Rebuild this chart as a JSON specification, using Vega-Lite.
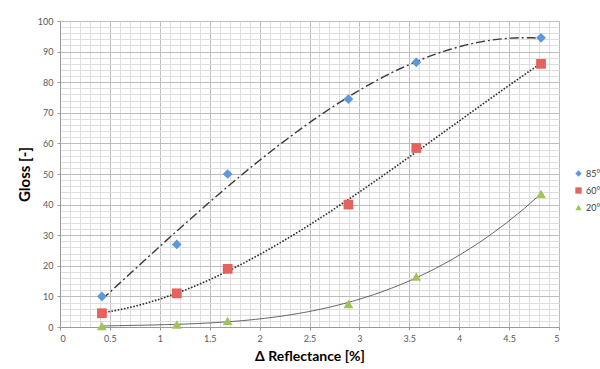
{
  "$schema": "https://vega.github.io/schema/vega-lite/v6.json",
  "width": 499,
  "height": 306,
  "autosize": {"type": "none"},
  "padding": {"left": 60, "top": 21, "right": 41, "bottom": 42},
  "background": "white",
  "config": {
    "font": "Lato",
    "view": {"stroke": null},
    "axis": {"labelFont": "Lato", "titleFont": "Lato"}
  },
  "data": {
    "values": [
      {"series": "85°", "refl": 0.42, "gloss": 10},
      {"series": "85°", "refl": 1.17, "gloss": 27},
      {"series": "85°", "refl": 1.68, "gloss": 50},
      {"series": "85°", "refl": 2.89, "gloss": 74.5},
      {"series": "85°", "refl": 3.57, "gloss": 86.5},
      {"series": "85°", "refl": 4.82, "gloss": 94.5},
      {"series": "60°", "refl": 0.42, "gloss": 4.5},
      {"series": "60°", "refl": 1.17, "gloss": 11},
      {"series": "60°", "refl": 1.68, "gloss": 19},
      {"series": "60°", "refl": 2.89, "gloss": 40},
      {"series": "60°", "refl": 3.57, "gloss": 58.5},
      {"series": "60°", "refl": 4.82, "gloss": 86},
      {"series": "20°", "refl": 0.42, "gloss": 0.3},
      {"series": "20°", "refl": 1.17, "gloss": 0.8},
      {"series": "20°", "refl": 1.68, "gloss": 2},
      {"series": "20°", "refl": 2.89, "gloss": 7.5},
      {"series": "20°", "refl": 3.57, "gloss": 16.5},
      {"series": "20°", "refl": 4.82, "gloss": 43.5}
    ]
  },
  "encoding": {
    "x": {
      "field": "refl", "type": "quantitative",
      "scale": {"domain": [0, 5], "nice": false},
      "axis": {
        "title": "Δ Reflectance [%]",
        "titleFontSize": 14, "titleFontWeight": "bold", "titleColor": "#000000", "titlePadding": 6,
        "values": [0,0.1,0.2,0.3,0.4,0.5,0.6,0.7,0.8,0.9,1,1.1,1.2,1.3,1.4,1.5,1.6,1.7,1.8,1.9,2,2.1,2.2,2.3,2.4,2.5,2.6,2.7,2.8,2.9,3,3.1,3.2,3.3,3.4,3.5,3.6,3.7,3.8,3.9,4,4.1,4.2,4.3,4.4,4.5,4.6,4.7,4.8,4.9,5],
        "format": "~g",
        "labelExpr": "abs(datum.value*10 - round(datum.value*2)*5) < 0.01 ? datum.label : ''",
        "labelOverlap": false,
        "labelFontSize": 9, "labelColor": "#595959", "labelPadding": 4,
        "grid": true,
        "gridColor": {"condition": {"test": "abs(datum.value*10 - round(datum.value*2)*5) < 0.01", "value": "#bdbdbd"}, "value": "#dedede"},
        "gridWidth": 1,
        "ticks": true, "tickSize": 3,
        "tickColor": {"condition": {"test": "abs(datum.value*10 - round(datum.value*2)*5) < 0.01", "value": "#9a9a9a"}, "value": "transparent"},
        "domain": true, "domainColor": "#9a9a9a"
      }
    },
    "y": {
      "field": "gloss", "type": "quantitative",
      "scale": {"domain": [0, 100], "nice": false},
      "axis": {
        "title": "Gloss [-]",
        "titleFontSize": 15, "titleFontWeight": "bold", "titleColor": "#000000", "titlePadding": 5,
        "values": [0,2,4,6,8,10,12,14,16,18,20,22,24,26,28,30,32,34,36,38,40,42,44,46,48,50,52,54,56,58,60,62,64,66,68,70,72,74,76,78,80,82,84,86,88,90,92,94,96,98,100],
        "labelExpr": "datum.value % 10 === 0 ? datum.label : ''",
        "labelOverlap": false,
        "labelFontSize": 9, "labelColor": "#595959", "labelPadding": 4,
        "grid": true,
        "gridColor": {"condition": {"test": "datum.value % 10 === 0", "value": "#bdbdbd"}, "value": "#dedede"},
        "gridWidth": 1,
        "ticks": true, "tickSize": 3,
        "tickColor": {"condition": {"test": "datum.value % 10 === 0", "value": "#9a9a9a"}, "value": "transparent"},
        "domain": true, "domainColor": "#9a9a9a"
      }
    }
  },
  "layer": [
    {
      "transform": [
        {"filter": "datum.series === '85°'"},
        {"regression": "gloss", "on": "refl", "method": "poly", "order": 3}
      ],
      "mark": {"type": "line", "color": "#3a3a3a", "strokeWidth": 1.4, "strokeDash": [9, 3, 2, 3]}
    },
    {
      "transform": [
        {"filter": "datum.series === '60°'"},
        {"regression": "gloss", "on": "refl", "method": "poly", "order": 3}
      ],
      "mark": {"type": "line", "color": "#2e2e2e", "strokeWidth": 1.6, "strokeDash": [1.6, 1.6]}
    },
    {
      "transform": [
        {"filter": "datum.series === '20°'"},
        {"regression": "gloss", "on": "refl", "method": "poly", "order": 3}
      ],
      "mark": {"type": "line", "color": "#404040", "strokeWidth": 0.8}
    },
    {
      "mark": {"type": "point", "filled": true, "opacity": 1},
      "encoding": {
        "shape": {
          "field": "series", "type": "nominal",
          "scale": {"domain": ["85°", "60°", "20°"], "range": ["diamond", "square", "triangle-up"]},
          "legend": null
        },
        "color": {
          "field": "series", "type": "nominal",
          "scale": {"domain": ["85°", "60°", "20°"], "range": ["#5d97dc", "#e5635f", "#9fc55a"]},
          "legend": {
            "title": null, "orient": "none", "legendX": 514, "legendY": 148,
            "symbolType": "square", "labelFontSize": 9, "labelColor": "#404040",
            "symbolSize": 40, "rowPadding": 7, "labelOffset": 3
          }
        },
        "size": {"value": 95}
      }
    }
  ]
}
